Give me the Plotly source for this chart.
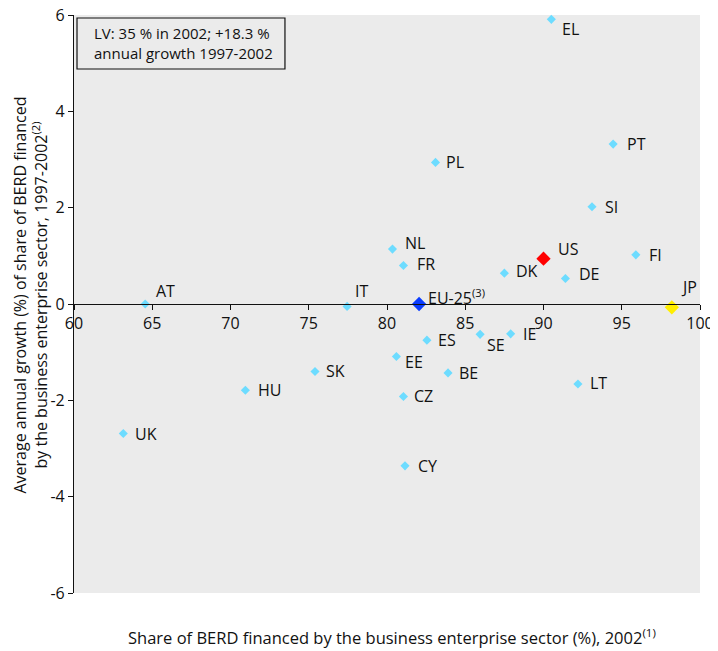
import plotly.graph_objects as go

# ---- data ----
countries = ["EL", "PT", "SI", "PL", "NL", "FR", "FI", "DK", "DE", "AT", "IT",
             "ES", "SE", "IE", "EE", "BE", "LT", "CZ", "CY", "SK", "HU", "UK"]
share_2002 = [90.5, 94.45, 93.1, 83.1, 80.35, 81.05, 95.9, 87.5, 91.4, 64.55, 77.45,
              82.55, 85.95, 87.9, 80.6, 83.9, 92.2, 81.05, 81.15, 75.4, 70.95, 63.15]
growth_97_02 = [5.91, 3.32, 2.02, 2.94, 1.14, 0.80, 1.02, 0.64, 0.53, 0.0, -0.05,
                -0.75, -0.63, -0.62, -1.09, -1.43, -1.66, -1.92, -3.36, -1.40, -1.79, -2.69]

highlight_names = ["EU-25<sup>(3)</sup>", "US", "JP"]
highlight_share = [82.05, 90.0, 98.2]
highlight_growth = [0.0, 0.94, -0.07]

y_ticks = [-6, -4, -2, 0, 2, 4, 6]
x_ticks = [60, 65, 70, 75, 80, 85, 90, 95, 100]

# label offsets (pixels) — styling only
label_shift = {
    "EL": (9, -10), "PT": (12, 0), "SI": (11, 0), "PL": (8, 0), "NL": (11, 6),
    "FR": (12, 1), "FI": (11, 0), "DK": (10, 2), "DE": (12, 4), "AT": (9, 13),
    "IT": (6, 15), "ES": (9, 0), "SE": (5, -11), "IE": (10, 0), "EE": (7, -5),
    "BE": (9, 0), "LT": (10, 1), "CZ": (9, 0), "CY": (11, 0), "SK": (9, 0),
    "HU": (11, 0), "UK": (10, 0),
}
highlight_shift = [(7, 7), (12, 10), (7, 20)]
highlight_colors = ["#0a3cff", "#ff0000", "#ffee00"]

FONT = "Open Sans"
TXT = "#111111"

fig = go.Figure()
fig.add_trace(go.Scatter(
    x=share_2002, y=growth_97_02, mode="markers",
    marker=dict(symbol="diamond", size=7, color="#6ddcff"),
    hoverinfo="text", text=countries, showlegend=False, cliponaxis=False))
fig.add_trace(go.Scatter(
    x=highlight_share, y=highlight_growth, mode="markers",
    marker=dict(symbol="diamond", size=11, color=highlight_colors),
    hoverinfo="text", text=highlight_names, showlegend=False, cliponaxis=False))

annotations = []
for name, xv, yv in zip(countries, share_2002, growth_97_02):
    dx, dy = label_shift[name]
    annotations.append(dict(x=xv, y=yv, xref="x", yref="y", text=name,
                            showarrow=False, xanchor="left", yanchor="middle",
                            xshift=dx, yshift=dy,
                            font=dict(family=FONT, size=16, color=TXT)))
for name, xv, yv, (dx, dy) in zip(highlight_names, highlight_share, highlight_growth, highlight_shift):
    annotations.append(dict(x=xv, y=yv, xref="x", yref="y", text=name,
                            showarrow=False, xanchor="left", yanchor="middle",
                            xshift=dx, yshift=dy,
                            font=dict(family=FONT, size=16, color=TXT)))

# info box: frame as a shape, text as an annotation
shapes = [dict(type="rect", xref="paper", yref="paper",
               x0=0.0048, x1=0.337, y0=0.9066, y1=0.9948,
               fillcolor="#ebebeb", line=dict(color=TXT, width=1.2), layer="above")]
annotations.append(dict(
    x=0.0288, y=0.9516, xref="paper", yref="paper", xanchor="left", yanchor="middle",
    text="LV: 35 % in 2002; +18.3 %<br>annual growth 1997-2002",
    showarrow=False, align="left", font=dict(family=FONT, size=15, color=TXT)))

# axis titles
annotations.append(dict(
    x=0.508, y=-0.076, xref="paper", yref="paper", xanchor="center", yanchor="middle",
    text="Share of BERD financed by the business enterprise sector (%), 2002<sup>(1)</sup>",
    showarrow=False, font=dict(family=FONT, size=16.5, color=TXT)))
annotations.append(dict(
    x=-0.069, y=0.516, xref="paper", yref="paper", xanchor="center", yanchor="middle",
    textangle=-90,
    text="Average annual growth (%) of share of BERD financed<br>by the business enterprise sector, 1997-2002<sup>(2)</sup>",
    showarrow=False, font=dict(family=FONT, size=16, color=TXT)))

# figure is 8px smaller than the window to allow for the page's body margin
fig.update_layout(
    width=710, height=643,
    margin=dict(l=66, r=18, t=7, b=58, autoexpand=False),
    paper_bgcolor="white", plot_bgcolor="#ebebeb",
    font=dict(family=FONT, size=16, color=TXT),
    annotations=annotations, shapes=shapes,
    xaxis=dict(range=[60, 100], tickvals=x_ticks, ticktext=[str(v) for v in x_ticks],
               showgrid=False, zeroline=False, showline=True, linecolor=TXT,
               linewidth=1.2, ticks="outside", ticklen=5, tickcolor=TXT,
               anchor="free", position=0.5, automargin=False,
               ticklabeloverflow="allow", tickfont=dict(size=16)),
    yaxis=dict(range=[-6, 6], tickvals=y_ticks, ticktext=[str(v) for v in y_ticks],
               showgrid=False, zeroline=False, showline=True, linecolor=TXT,
               linewidth=1.2, ticks="outside", ticklen=5, tickcolor=TXT,
               automargin=False, ticklabeloverflow="allow", tickfont=dict(size=16)),
)

fig.write_html("out.html")
